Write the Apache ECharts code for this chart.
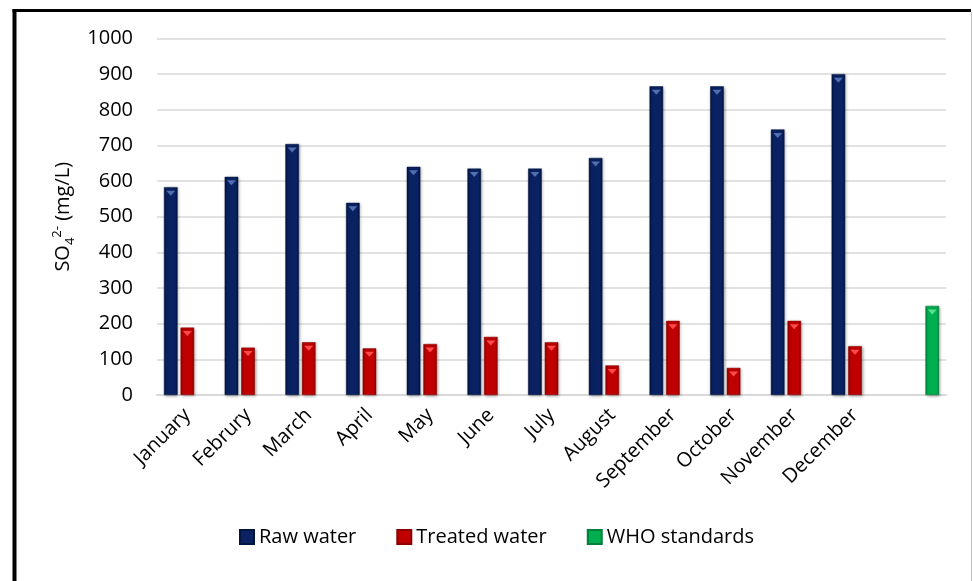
<!DOCTYPE html>
<html>
<head>
<meta charset="utf-8">
<script src="https://cdn.jsdelivr.net/npm/echarts@6/dist/echarts.min.js"></script>
<style>
html,body{margin:0;padding:0;background:#fff;}
#chart{width:973px;height:581px;}
</style>
</head>
<body>
<div id="chart"></div>
<script>
var categories = ['January','Februry','March','April','May','June','July','August','September','October','November','December',''];
var rawWater = [583,612,704,539,640,635,635,665,866,866,745,900,null];
var treatedWater = [189,133,148,131,143,163,148,83,208,76,208,137,null];
var whoStandards = [null,null,null,null,null,null,null,null,null,null,null,null,250];
var yTicks = {min:0, max:1000, interval:100};

var FONT = '"Open Sans", sans-serif';

function grad(edge, mid) {
  return new echarts.graphic.LinearGradient(0,0,1,0,[
    {offset:0,color:edge},{offset:0.18,color:mid},{offset:0.82,color:mid},{offset:1,color:edge}
  ]);
}
var shadow = {shadowBlur:3, shadowColor:'rgba(0,0,0,0.35)', shadowOffsetX:1, shadowOffsetY:1};

function bevel(name, data, color) {
  return {
    name:name, type:'pictorialBar', data:data, silent:true, z:3,
    barGap:'22%', barCategoryGap:'23%',
    symbol:'triangle', symbolRotate:180, symbolSize:[9,5],
    symbolPosition:'end', symbolOffset:[0,3.5],
    itemStyle:{color:color}
  };
}

var chart = echarts.init(document.getElementById('chart'), null, {renderer:'canvas'});
chart.setOption({
  animation:false,
  backgroundColor:'#ffffff',
  textStyle:{fontFamily:FONT},
  grid:{left:157, right:27, top:38.5, bottom:186, containLabel:false},
  legend:{
    left:234, top:522, itemWidth:14, itemHeight:14, itemGap:40, itemTextGap:6,
    icon:'rect',
    textStyle:{fontFamily:FONT, fontSize:20, color:'#000'},
    data:['Raw water','Treated water','WHO standards']
  },
  xAxis:{
    type:'category', data:categories,
    axisLine:{lineStyle:{color:'#d9d9d9', width:2}},
    axisTick:{show:false},
    axisLabel:{rotate:45, interval:0, margin:17, fontFamily:FONT, fontSize:20, color:'#000'}
  },
  yAxis:{
    type:'value', min:yTicks.min, max:yTicks.max, interval:yTicks.interval,
    axisLine:{show:false}, axisTick:{show:false},
    splitLine:{lineStyle:{color:'#d9d9d9', width:1.5}},
    axisLabel:{margin:24, fontFamily:FONT, fontSize:20, color:'#000', formatter:function(v){return String(v);}},
    name:'{a|SO}{sub|4}{sup|2-}{a| (mg/L)}',
    nameLocation:'middle', nameRotate:90, nameGap:78,
    nameTextStyle:{
      rich:{
        a:{fontFamily:FONT, fontSize:20, color:'#000'},
        sub:{fontFamily:FONT, fontSize:13, color:'#000', padding:[13,0,0,0]},
        sup:{fontFamily:FONT, fontSize:13, color:'#000', padding:[0,0,13,0]}
      }
    }
  },
  series:[
    {name:'Raw water', type:'bar', data:rawWater, barGap:'22%', barCategoryGap:'23%',
     itemStyle:Object.assign({color:grad('#00123d','#0a2262'), borderColor:'#001540', borderWidth:0.5}, shadow)},
    {name:'Treated water', type:'bar', data:treatedWater,
     itemStyle:Object.assign({color:grad('#8c0000','#c00000'), borderColor:'#900000', borderWidth:0.5}, shadow)},
    {name:'WHO standards', type:'bar', data:whoStandards,
     itemStyle:Object.assign({color:grad('#00803a','#00b050'), borderColor:'#00803a', borderWidth:0.5}, shadow)},
    bevel('raw-top', rawWater, '#4f6fb0'),
    bevel('treated-top', treatedWater, '#ff4b4b'),
    bevel('who-top', whoStandards, '#5fe090')
  ],
  graphic:[
    {type:'line', shape:{x1:14.5, y1:9, x2:14.5, y2:581}, style:{stroke:'#000', lineWidth:4}, silent:true},
    {type:'line', shape:{x1:12.5, y1:10.5, x2:971, y2:10.5}, style:{stroke:'#000', lineWidth:3}, silent:true},
    {type:'line', shape:{x1:971.5, y1:12, x2:971.5, y2:581}, style:{stroke:'#bfbfbf', lineWidth:1}, silent:true}
  ]
});
</script>
</body>
</html>
